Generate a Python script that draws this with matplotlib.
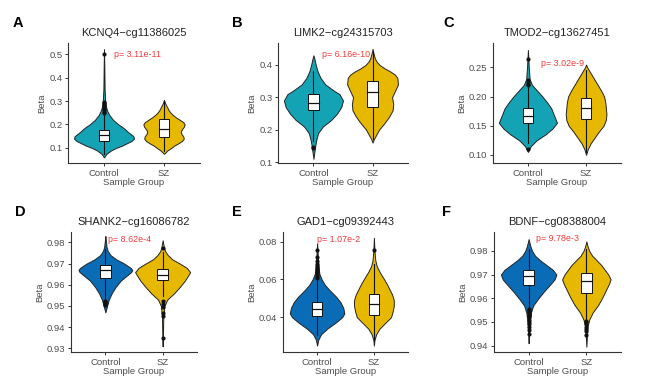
import numpy as np
import matplotlib.pyplot as plt

plt.rcParams['font.family'] = ['Liberation Sans', 'DejaVu Sans']

groups = ['Control', 'SZ']
titles = ['KCNQ4\u2212cg11386025', 'LIMK2\u2212cg24315703', 'TMOD2\u2212cg13627451',
          'SHANK2\u2212cg16086782', 'GAD1\u2212cg09392443', 'BDNF\u2212cg08388004']
letters = ['A', 'B', 'C', 'D', 'E', 'F']
pvals = ['p= 3.11e-11', 'p= 6.16e-10', 'p= 3.02e-9', 'p= 8.62e-4', 'p= 1.07e-2', 'p= 9.78e-3']

# violin outlines: beta value -> half width (in category units)
# box stats: whisker low, q1, median, q3, whisker high
a_ctrl_y = [0.06, 0.075, 0.09, 0.10, 0.11, 0.12, 0.13, 0.14, 0.15, 0.16, 0.17, 0.18, 0.19, 0.20, 0.22, 0.24, 0.26, 0.28, 0.30, 0.35, 0.45, 0.52]
a_ctrl_w = [0, 0.04, 0.12, 0.2, 0.3, 0.38, 0.46, 0.5, 0.49, 0.44, 0.39, 0.35, 0.3, 0.24, 0.15, 0.09, 0.05, 0.03, 0.02, 0.01, 0.005, 0]
a_ctrl_box = [0.075, 0.130, 0.154, 0.178, 0.245]
a_ctrl_out = [0.50, 0.295, 0.29, 0.285, 0.28, 0.27, 0.265, 0.26, 0.255, 0.25]
a_sz_y = [0.075, 0.09, 0.10, 0.11, 0.12, 0.13, 0.14, 0.15, 0.16, 0.17, 0.18, 0.19, 0.20, 0.21, 0.22, 0.23, 0.24, 0.25, 0.26, 0.27, 0.28, 0.29, 0.305]
a_sz_w = [0, 0.06, 0.12, 0.17, 0.24, 0.3, 0.33, 0.32, 0.29, 0.28, 0.3, 0.33, 0.345, 0.32, 0.26, 0.2, 0.15, 0.11, 0.08, 0.06, 0.04, 0.02, 0]
a_sz_box = [0.085, 0.147, 0.182, 0.222, 0.295]
a_sz_out = []

b_ctrl_y = [0.11, 0.13, 0.15, 0.17, 0.19, 0.21, 0.23, 0.25, 0.27, 0.29, 0.31, 0.32, 0.34, 0.36, 0.38, 0.40, 0.42, 0.43]
b_ctrl_w = [0, 0.015, 0.03, 0.05, 0.08, 0.16, 0.3, 0.4, 0.47, 0.5, 0.44, 0.35, 0.2, 0.12, 0.07, 0.04, 0.015, 0]
b_ctrl_box = [0.165, 0.261, 0.283, 0.31, 0.38]
b_ctrl_out = [0.148, 0.142]
b_sz_y = [0.16, 0.17, 0.18, 0.20, 0.22, 0.24, 0.26, 0.28, 0.30, 0.32, 0.34, 0.36, 0.37, 0.38, 0.39, 0.40, 0.41, 0.42, 0.44, 0.45]
b_sz_w = [0, 0.02, 0.05, 0.11, 0.2, 0.28, 0.34, 0.35, 0.33, 0.38, 0.43, 0.42, 0.38, 0.3, 0.2, 0.12, 0.07, 0.04, 0.01, 0]
b_sz_box = [0.17, 0.27, 0.318, 0.349, 0.44]
b_sz_out = []

c_ctrl_y = [0.105, 0.115, 0.125, 0.135, 0.145, 0.155, 0.16, 0.17, 0.18, 0.19, 0.20, 0.21, 0.22, 0.23, 0.25, 0.28]
c_ctrl_w = [0, 0.05, 0.15, 0.3, 0.42, 0.5, 0.48, 0.44, 0.4, 0.33, 0.25, 0.16, 0.07, 0.03, 0.015, 0]
c_ctrl_box = [0.12, 0.154, 0.167, 0.18, 0.218]
c_ctrl_out = [0.265, 0.228, 0.225, 0.222, 0.22, 0.11]
c_sz_y = [0.10, 0.11, 0.12, 0.13, 0.14, 0.15, 0.16, 0.17, 0.18, 0.19, 0.20, 0.21, 0.22, 0.23, 0.24, 0.25, 0.255]
c_sz_w = [0, 0.03, 0.08, 0.15, 0.22, 0.3, 0.34, 0.35, 0.34, 0.33, 0.31, 0.26, 0.2, 0.14, 0.08, 0.02, 0]
c_sz_box = [0.105, 0.161, 0.18, 0.197, 0.245]
c_sz_out = []

d_ctrl_y = [0.947, 0.95, 0.953, 0.956, 0.959, 0.962, 0.964, 0.966, 0.967, 0.968, 0.970, 0.972, 0.974, 0.976, 0.978, 0.981, 0.983]
d_ctrl_w = [0, 0.03, 0.06, 0.11, 0.18, 0.27, 0.36, 0.45, 0.47, 0.44, 0.33, 0.19, 0.09, 0.04, 0.02, 0.008, 0]
d_ctrl_box = [0.954, 0.9633, 0.967, 0.9693, 0.977]
d_ctrl_out = [0.9525, 0.952, 0.9515, 0.951, 0.9505]
d_sz_y = [0.931, 0.935, 0.94, 0.945, 0.95, 0.953, 0.956, 0.959, 0.962, 0.965, 0.966, 0.968, 0.970, 0.972, 0.974, 0.976, 0.978, 0.981]
d_sz_w = [0, 0.005, 0.008, 0.012, 0.03, 0.08, 0.2, 0.3, 0.39, 0.46, 0.48, 0.42, 0.3, 0.17, 0.09, 0.04, 0.02, 0]
d_sz_box = [0.9545, 0.9622, 0.9646, 0.9674, 0.9755]
d_sz_out = [0.9775, 0.9525, 0.951, 0.9495, 0.9465, 0.9455, 0.935]

e_ctrl_y = [0.025, 0.028, 0.031, 0.034, 0.037, 0.040, 0.042, 0.045, 0.048, 0.051, 0.054, 0.057, 0.060, 0.063, 0.068, 0.075, 0.079]
e_ctrl_w = [0, 0.02, 0.07, 0.18, 0.32, 0.44, 0.48, 0.46, 0.41, 0.33, 0.23, 0.14, 0.08, 0.04, 0.02, 0.008, 0]
e_ctrl_box = [0.0305, 0.0404, 0.0444, 0.0483, 0.060]
e_ctrl_out = [0.0755, 0.072, 0.070, 0.068, 0.067, 0.066, 0.065, 0.064, 0.063, 0.062, 0.061]
e_sz_y = [0.025, 0.028, 0.031, 0.034, 0.037, 0.040, 0.043, 0.046, 0.049, 0.052, 0.055, 0.058, 0.061, 0.064, 0.067, 0.070, 0.075, 0.082]
e_sz_w = [0, 0.01, 0.04, 0.1, 0.2, 0.3, 0.33, 0.35, 0.35, 0.32, 0.27, 0.22, 0.16, 0.1, 0.05, 0.025, 0.01, 0]
e_sz_box = [0.028, 0.0412, 0.0469, 0.0523, 0.068]
e_sz_out = [0.0758]

f_ctrl_y = [0.941, 0.945, 0.95, 0.954, 0.957, 0.96, 0.963, 0.966, 0.968, 0.970, 0.972, 0.974, 0.976, 0.978, 0.980, 0.982, 0.985]
f_ctrl_w = [0, 0.008, 0.02, 0.04, 0.08, 0.17, 0.27, 0.38, 0.45, 0.48, 0.42, 0.31, 0.2, 0.11, 0.06, 0.03, 0]
f_ctrl_box = [0.9565, 0.9656, 0.9694, 0.972, 0.981]
f_ctrl_out = [0.9555, 0.955, 0.9545, 0.954, 0.9535, 0.953, 0.9525, 0.952, 0.951, 0.950, 0.949, 0.948, 0.9465, 0.945]
f_sz_y = [0.9395, 0.944, 0.948, 0.951, 0.954, 0.957, 0.960, 0.963, 0.966, 0.968, 0.970, 0.972, 0.974, 0.976, 0.978, 0.980, 0.982, 0.984]
f_sz_w = [0, 0.01, 0.02, 0.05, 0.11, 0.2, 0.27, 0.33, 0.39, 0.42, 0.38, 0.32, 0.26, 0.18, 0.1, 0.05, 0.02, 0]
f_sz_box = [0.951, 0.9624, 0.9675, 0.9706, 0.981]
f_sz_out = [0.9505, 0.95, 0.949, 0.948, 0.947, 0.946, 0.9445]

a_ticks = [0.1, 0.2, 0.3, 0.4, 0.5]
b_ticks = [0.1, 0.2, 0.3, 0.4]
c_ticks = [0.10, 0.15, 0.20, 0.25]
d_ticks = [0.93, 0.94, 0.95, 0.96, 0.97, 0.98]
e_ticks = [0.04, 0.06, 0.08]
f_ticks = [0.94, 0.95, 0.96, 0.97, 0.98]

teal = '#14A3B5'
blue = '#0A6CB7'
gold = '#E6B800'

panels = [
    (a_ctrl_y, a_ctrl_w, a_ctrl_box, a_ctrl_out, a_sz_y, a_sz_w, a_sz_box, a_sz_out, a_ticks, '%.1f', (0.036, 0.547), teal, (1.55, 0.50)),
    (b_ctrl_y, b_ctrl_w, b_ctrl_box, b_ctrl_out, b_sz_y, b_sz_w, b_sz_box, b_sz_out, b_ticks, '%.1f', (0.097, 0.468), teal, (1.55, 0.431)),
    (c_ctrl_y, c_ctrl_w, c_ctrl_box, c_ctrl_out, c_sz_y, c_sz_w, c_sz_box, c_sz_out, c_ticks, '%.2f', (0.086, 0.292), teal, (1.6, 0.257)),
    (d_ctrl_y, d_ctrl_w, d_ctrl_box, d_ctrl_out, d_sz_y, d_sz_w, d_sz_box, d_sz_out, d_ticks, '%.2f', (0.9283, 0.9849), blue, (1.42, 0.9814)),
    (e_ctrl_y, e_ctrl_w, e_ctrl_box, e_ctrl_out, e_sz_y, e_sz_w, e_sz_box, e_sz_out, e_ticks, '%.2f', (0.0216, 0.0851), blue, (1.38, 0.0812)),
    (f_ctrl_y, f_ctrl_w, f_ctrl_box, f_ctrl_out, f_sz_y, f_sz_w, f_sz_box, f_sz_out, f_ticks, '%.2f', (0.9373, 0.988), blue, (1.5, 0.9853)),
]

# axes boxes in pixels: left, right, top, bottom
W, H = 648, 388
boxes = [(68, 200, 43, 163), (278, 408, 43, 163), (493, 621, 43, 163),
         (71, 197, 232, 352), (283, 408, 232, 352), (494, 621, 232, 352)]
letter_pos = [(13, 23), (232, 23), (443, 23), (15, 212), (232, 212), (442, 212)]

fig = plt.figure(figsize=(6.48, 3.88), dpi=100)

def draw_group(ax, x, ys, ws, box, outl, color):
    ys = np.array(ys)
    ws = np.array(ws)
    ax.fill_betweenx(ys, x - ws, x + ws, facecolor=color, edgecolor='#222222', linewidth=0.7, zorder=2)
    lo, q1, med, q3, hi = box
    ax.plot([x, x], [lo, q1], color='#111111', lw=0.8, zorder=3)
    ax.plot([x, x], [q3, hi], color='#111111', lw=0.8, zorder=3)
    bw = 0.09
    ax.add_patch(plt.Rectangle((x - bw, q1), 2 * bw, q3 - q1, facecolor='white',
                               edgecolor='#111111', lw=0.7, zorder=4))
    ax.plot([x - bw, x + bw], [med, med], color='#111111', lw=0.9, zorder=5)
    if outl:
        ax.scatter([x] * len(outl), outl, s=9, color='#111111', zorder=5, linewidths=0)

for i, p in enumerate(panels):
    cy, cw, cb, co, sy, sw, sb, so, ticks, fmt, ylim, ccol, plab = p
    l, r, t, b = boxes[i]
    ax = fig.add_axes([l / W, 1 - b / H, (r - l) / W, (b - t) / H])
    draw_group(ax, 1, cy, cw, cb, co, ccol)
    draw_group(ax, 2, sy, sw, sb, so, gold)
    ax.set_xlim(0.4, 2.6)
    ax.set_ylim(*ylim)
    ax.set_xticks([1, 2])
    ax.set_xticklabels(groups)
    ax.set_yticks(ticks)
    ax.set_yticklabels([fmt % v for v in ticks])
    for s in ['top', 'right']:
        ax.spines[s].set_visible(False)
    for s in ['left', 'bottom']:
        ax.spines[s].set_color('#333333')
        ax.spines[s].set_linewidth(0.8)
    ax.tick_params(labelsize=6.8, colors='#333333', labelcolor='#4D4D4D', length=2.5, width=0.7, pad=1.5)
    ax.set_xlabel('Sample Group', fontsize=6.8, color='#4D4D4D', labelpad=0.5)
    ax.set_ylabel('Beta', fontsize=6.8, color='#4D4D4D', labelpad=2)
    ax.set_title(titles[i], fontsize=8, color='#222222', pad=5)
    ax.text(plab[0], plab[1], pvals[i], color='#EE3B3B', fontsize=6.4, ha='center', va='center')
    lx, ly = letter_pos[i]
    fig.text(lx / W, 1 - ly / H, letters[i], fontsize=10.5, fontweight='bold', ha='left', va='center')

fig.savefig('out.png', dpi=100)
